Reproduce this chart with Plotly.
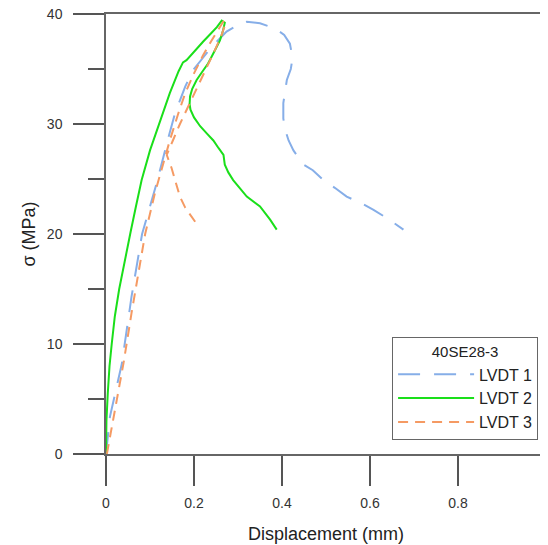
import plotly.graph_objects as go

# LVDT 1 (blue, long dash)
lvdt1_x = [0.0, 0.009, 0.036, 0.058, 0.082, 0.1, 0.115, 0.142, 0.157, 0.18, 0.198, 0.22, 0.24, 0.274, 0.30, 0.32,
           0.35, 0.384, 0.405, 0.418, 0.424, 0.42, 0.411, 0.403, 0.403, 0.407, 0.415, 0.426, 0.449, 0.47, 0.494,
           0.52, 0.547, 0.58, 0.608, 0.64, 0.676]
lvdt1_y = [0.0, 3.4, 8.2, 14.3, 20.0, 22.5, 24.6, 28.8, 31.0, 33.4, 34.9, 36.0, 37.0, 38.4, 39.0, 39.3,
           39.15, 38.7, 38.1, 37.3, 36.0, 35.0, 34.0, 31.9, 30.5, 29.5, 28.5, 27.6, 26.3, 25.8, 24.9,
           24.2, 23.4, 22.8, 22.2, 21.4, 20.4]

# LVDT 2 (green, solid)
lvdt2_x = [0.0, 0.001, 0.004, 0.008, 0.013, 0.02, 0.030, 0.042, 0.056, 0.068, 0.081, 0.10, 0.121, 0.145, 0.165,
           0.175, 0.183, 0.20, 0.221, 0.24, 0.252, 0.263, 0.27, 0.266, 0.259, 0.245, 0.232, 0.218, 0.206, 0.196,
           0.191, 0.19, 0.192, 0.2, 0.214, 0.23, 0.244, 0.256, 0.267, 0.27, 0.278, 0.289, 0.305, 0.32, 0.35,
           0.373, 0.388]
lvdt2_y = [0.0, 3.0, 5.5, 8.0, 10.0, 12.5, 15.0, 17.5, 20.2, 22.5, 24.9, 27.6, 30.1, 32.8, 34.8,
           35.6, 35.8, 36.6, 37.5, 38.3, 38.8, 39.4, 39.2, 38.5, 37.6, 36.5, 35.5, 34.7, 34.0, 33.2,
           32.5, 31.8, 31.3, 30.6, 29.8, 29.1, 28.5, 27.8, 27.2, 26.3, 25.6, 24.9, 24.1, 23.4, 22.5,
           21.3, 20.4]

# LVDT 3 (orange, dashed)
lvdt3_x = [0.002, 0.02, 0.04, 0.058, 0.077, 0.089, 0.111, 0.128, 0.145, 0.163, 0.18, 0.2, 0.22, 0.24, 0.255,
           0.268, 0.272, 0.262, 0.245, 0.225, 0.205, 0.185, 0.168, 0.152, 0.142, 0.138, 0.149, 0.158, 0.168,
           0.18, 0.195, 0.21]
lvdt3_y = [0.0, 4.0, 8.3, 12.8, 17.4, 20.0, 23.7, 26.2, 28.5, 30.8, 32.8, 34.6, 36.2, 37.6, 38.6,
           39.4, 39.2, 38.0, 36.5, 34.8, 33.2, 31.5, 30.0, 28.5, 27.6, 27.2, 26.0, 24.8, 23.4,
           22.4, 21.6, 20.7]

x_ticks = [0, 0.2, 0.4, 0.6, 0.8, 1]
x_tick_labels = ["0", "0.2", "0.4", "0.6", "0.8", "1"]
y_ticks = [0, 10, 20, 30, 40]

fig = go.Figure()
fig.add_trace(go.Scatter(x=lvdt1_x, y=lvdt1_y, mode="lines", name="LVDT 1",
                         line=dict(color="#86aee8", width=2, dash="22px,14px")))
fig.add_trace(go.Scatter(x=lvdt2_x, y=lvdt2_y, mode="lines", name="LVDT 2",
                         line=dict(color="#1adf1a", width=2)))
fig.add_trace(go.Scatter(x=lvdt3_x, y=lvdt3_y, mode="lines", name="LVDT 3",
                         line=dict(color="#f59a63", width=2, dash="10px,7px")))

font_family = "Liberation Sans, Arial, sans-serif"
fig.update_layout(
    width=540, height=537,
    margin=dict(l=98, r=2, t=6, b=91, autoexpand=False),
    paper_bgcolor="white", plot_bgcolor="white",
    font=dict(family=font_family, color="#333333", size=14),
    showlegend=True,
    legend=dict(
        x=0.982, y=0.032, xanchor="right", yanchor="bottom",
        bordercolor="#666666", borderwidth=1, bgcolor="white",
        font=dict(size=16, color="#222222"),
        title=dict(text="40SE28-3", side="top center", font=dict(size=15, color="#222222")),
        tracegroupgap=0, itemwidth=76,
    ),
)
fig.update_xaxes(
    range=[0, 1], tickvals=x_ticks, ticktext=x_tick_labels, automargin=False,
    ticks="outside", ticklen=30, tickwidth=1.5, tickcolor="#555555",
    showline=True, linecolor="#666666", linewidth=1.5, mirror=True,
    showgrid=False, zeroline=False, ticklabeloverflow="allow",
    tickfont=dict(size=14, color="#333333"), ticklabelstandoff=5,
    title=dict(text="Displacement (mm)", font=dict(size=18, color="#222222"), standoff=18),
)
fig.update_yaxes(
    range=[0, 40], tickvals=y_ticks, automargin=False,
    ticks="outside", ticklen=31, tickwidth=1.5, tickcolor="#555555",
    minor=dict(ticks="outside", ticklen=16, tickwidth=1.5, tickcolor="#555555", dtick=5, tick0=0, showgrid=False),
    showline=True, linecolor="#666666", linewidth=1.5, mirror=True,
    showgrid=False, zeroline=False, ticklabeloverflow="allow",
    tickfont=dict(size=14, color="#333333"), ticklabelstandoff=8,
    title=dict(text="σ (MPa)", font=dict(size=18, color="#222222"), standoff=7),
)

fig.write_html("out.html")
